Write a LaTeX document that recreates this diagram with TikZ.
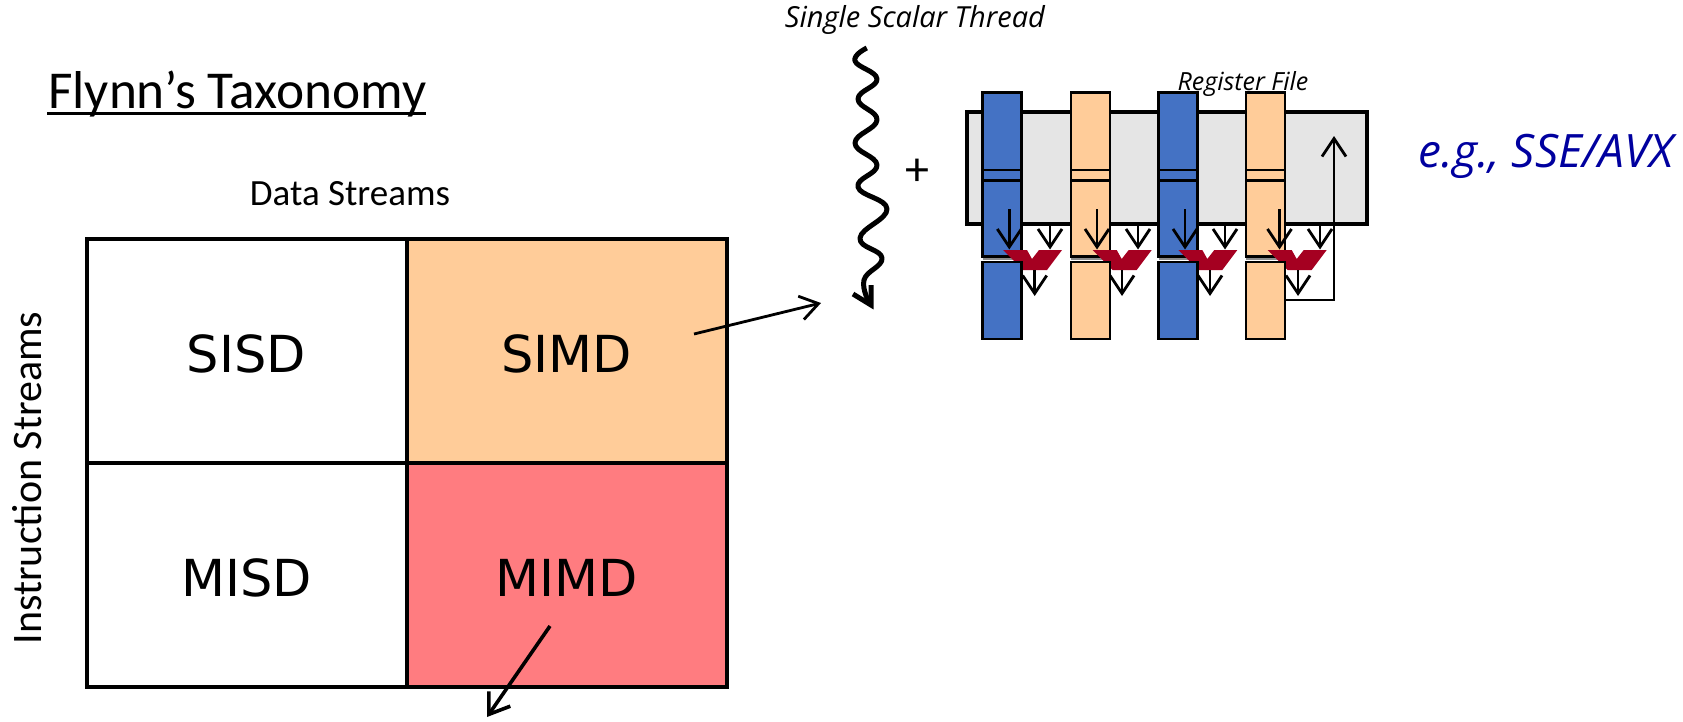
\documentclass[tikz,border=0pt]{standalone}
\usepackage{fontspec}
\setmainfont{Carlito}
\newfontfamily\threadfont{Open Sans}
\newfontfamily\cellfont{DejaVu Sans}
\usetikzlibrary{arrows.meta}
\definecolor{peach}{HTML}{FFCC99}
\definecolor{salmon}{HTML}{FF7C80}
\definecolor{barblue}{HTML}{4472C4}
\definecolor{muxred}{HTML}{A50021}
\definecolor{regfill}{HTML}{E5E5E5}
\definecolor{egblue}{HTML}{00009F}
\tikzset{
 x=1pt,y=-1pt,
 cell/.style={draw=black,line width=4pt,outer sep=0pt,minimum width=320pt,minimum height=224pt,inner sep=0pt,text height=44pt,text depth=0pt,font=\fontsize{51}{51}\selectfont\cellfont},
 lbar/.style={draw=black,line width=2.6pt,outer sep=0pt,minimum width=39pt,inner sep=0pt,anchor=north west},
 vb/.style={-{Straight Barb[length=18pt,width=24pt,line width=2.8pt]},line width=2.8pt},
}
\newcommand{\barcol}[3]{% x, colour, name
 \node[lbar,fill=#2,minimum height=164pt] (#3u) at (#1,92.5) {};
 \draw[line width=2.4pt] (#1-1,170) coordinate (#3a) -- (#1+40,170) coordinate (#3b);
 \draw[line width=2.4pt] (#1-1,180.5) coordinate (#3c) -- (#1+40,180.5) coordinate (#3d);
}
\newcommand{\lowbar}[3]{%
 \node[lbar,fill=#2,minimum height=77.2pt] (#3l) at (#1,261.8) {};
}
\newcommand{\mux}[2]{% dx, name
 \fill[muxred] (1003+#1,250) coordinate (#2p) -- (1027+#1,250) -- (1032+#1,259) -- (1039+#1,250) -- (1062+#1,250) -- (1047+#1,270) -- (1023+#1,270) -- cycle;
}
\newcommand{\muxarrows}[4]{% x1, x2, xout, name
 \coordinate (#4s1) at (#1,209); \coordinate (#4t1) at (#1,249.5);
 \coordinate (#4s2) at (#2,224); \coordinate (#4t2) at (#2,249.5);
 \coordinate (#4s3) at (#3,270); \coordinate (#4t3) at (#3,296);
 \draw[vb] (#4s1) -- (#4t1);
 \draw[vb] (#4s2) -- (#4t2);
 \draw[vb] (#4s3) -- (#4t3);
}
\begin{document}
\begin{tikzpicture}
\useasboundingbox (0,0) rectangle (1683,721);
% text and grid
\node[font=\fontsize{53.3}{53.3}\selectfont,anchor=base west,inner sep=0pt] (title) at (48,108) {Flynn’s Taxonomy\llap{\rule[-7pt]{379pt}{3pt}}};
\node[font=\fontsize{37}{37}\selectfont] (ds) at (350,194) {Data Streams};
\node[font=\fontsize{42}{42}\selectfont,rotate=90] (is) at (27,478) {Instruction Streams};
\node[cell] (sisd) at (246.5,350.5) {SISD};
\node[cell,fill=peach] (simd) at (566.5,350.5) {SIMD};
\node[cell] (misd) at (246.5,574.5) {MISD};
\node[cell,fill=salmon] (mimd) at (566.5,574.5) {MIMD};
\node[font=\fontsize{29}{29}\selectfont\threadfont\itshape] (sst) at (915,20) {Single Scalar Thread};
\node[font=\fontsize{25}{25}\selectfont\threadfont\itshape] (rf) at (1243,84) {Register File};
\node[font=\fontsize{46}{46}\selectfont\threadfont\itshape,text=egblue] (eg) at (1546,156) {e.g., SSE/AVX};
\node[font=\fontsize{48}{48}\selectfont] (plus) at (917,172) {+};
% connectors from grid
\coordinate (simdstart) at (694,334); \coordinate (simdend) at (821,303);
\coordinate (mimdstart) at (550,626); \coordinate (mimdend) at (487,717);
\draw[vb] (simdstart) -- (simdend);
\draw[-{Straight Barb[length=19pt,width=26pt,line width=3.6pt]},line width=3.6pt] (mimdstart) -- (mimdend);
% squiggle
\draw[line width=5pt,line cap=butt,line join=round] plot[smooth,tension=0.75] coordinates {(866.8,48) (855,61) (877,79) (858,99) (877,120) (855,143) (877,165) (858,187) (887,209) (860,238) (882,258) (864,280) (870,304)};
\draw[line width=5pt,line join=miter] (853,294) -- (871,305) -- (871,285);
% register file
\node[draw=black,fill=regfill,line width=3.8pt,outer sep=0pt,minimum width=400pt,minimum height=112pt,inner sep=0pt,anchor=north west] (reg) at (967,112) {};
% bars
\barcol{982.7}{barblue}{A}
\barcol{1071}{peach}{B}
\barcol{1158.5}{barblue}{C}
\barcol{1246}{peach}{D}
\foreach \xx in {982.7,1071,1158.5,1246} \draw[line width=2pt,black!45] (\xx,259.3) -- (\xx+39,259.3);
\mux{0}{ma}
\mux{89.7}{mb}
\mux{175.3}{mc}
\mux{264.7}{md}
\muxarrows{1009.3}{1050}{1034.7}{a}
\muxarrows{1097}{1138}{1122}{b}
\muxarrows{1185}{1225}{1210}{c}
\muxarrows{1279.5}{1320}{1298}{d}
\lowbar{982.7}{barblue}{A}
\lowbar{1071}{peach}{B}
\lowbar{1158.5}{barblue}{C}
\lowbar{1246}{peach}{D}
% feedback
\coordinate (fbtop) at (1334,136);
\draw[vb] (Dl.east |- 0,300) -- (1334,300) -- (fbtop);
\end{tikzpicture}
\end{document}
